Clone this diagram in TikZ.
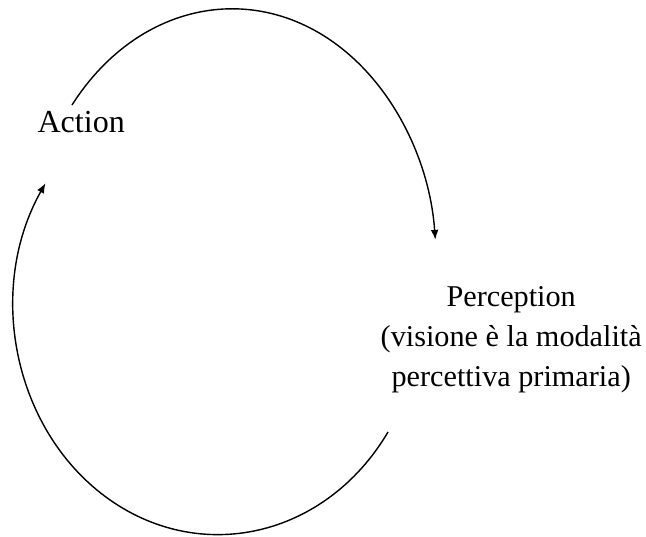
\documentclass[tikz,border=0pt]{standalone}
\usepackage{fontspec}
\setmainfont{Liberation Serif}
\usetikzlibrary{arrows.meta}
\tikzset{
    cycletext/.style={align=center,inner sep=0pt,font=\fontsize{22.8}{28.4}\selectfont},
    cyclearc/.style={line width=1pt,-{Latex[length=7pt,width=5.5pt]}}
}
\begin{document}
\begin{tikzpicture}
        % Fix the page size
        \useasboundingbox (0,0) rectangle (16.15,13.4);
        % Draw labels
        \node[cycletext] (action) at (2.03,10.35) {Action};
        \node[cycletext,font=\fontsize{21.5}{28.4}\selectfont] (perception) at (12.78,4.9) {Perception\\(visione è la modalità\\percettiva primaria)};
        % Ends of the two arcs
        \coordinate (topstart) at (1.8,10.775);
        \coordinate (bottomstart) at (9.7,2.6);
        % Draw arc from action to perception
        \draw[cyclearc] (topstart) arc[start angle=141.7,end angle=5,x radius=5.1,y radius=6.325];
        % Draw arc from perception back to action
        \draw[cyclearc] (bottomstart) arc[start angle=-33.5,end angle=-212.3,x radius=5.1,y radius=5.725];
    \end{tikzpicture}
\end{document}
